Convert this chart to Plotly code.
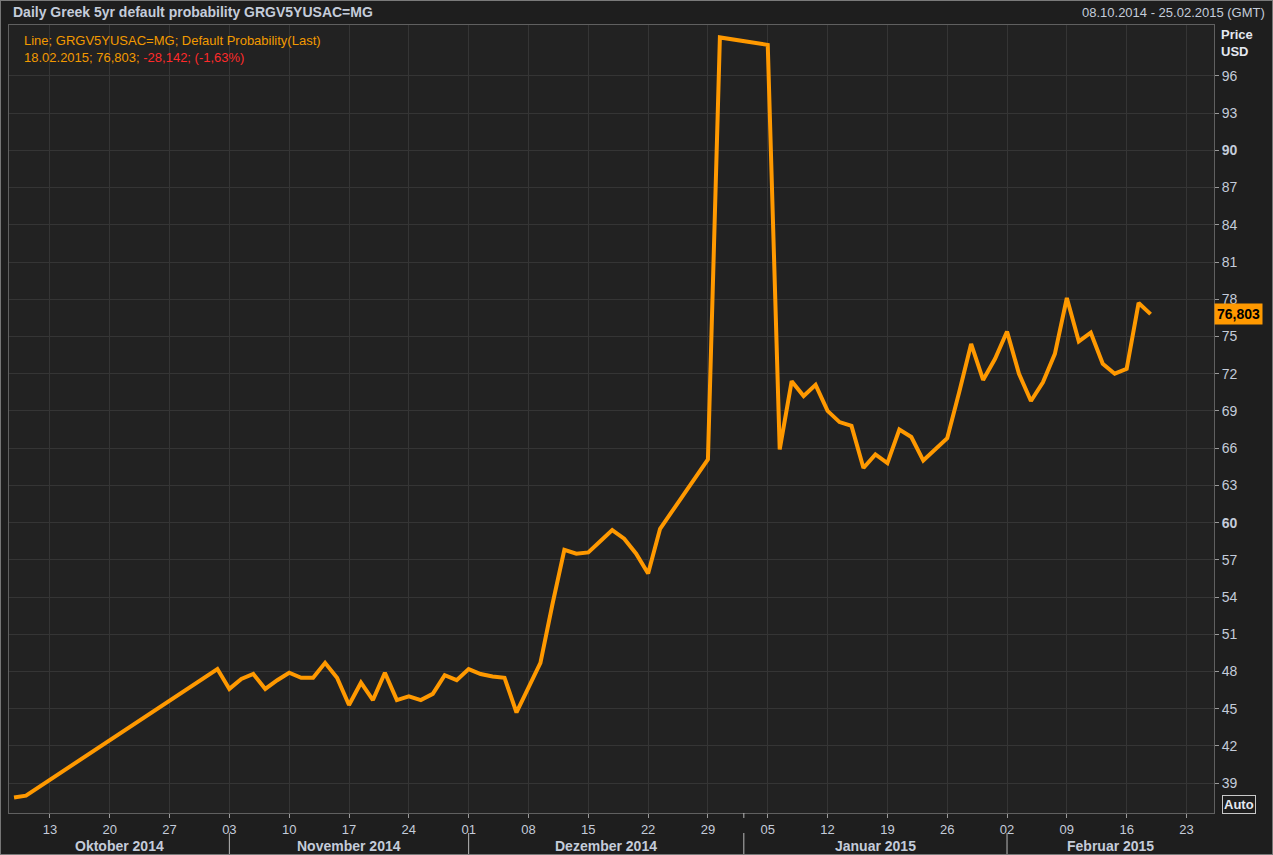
import numpy as np
import plotly.graph_objects as go

# daily default probability, business days only
dates = [
    "2014-10-08", "2014-10-09", "2014-10-31",
    "2014-11-03", "2014-11-04", "2014-11-05", "2014-11-06", "2014-11-07",
    "2014-11-10", "2014-11-11", "2014-11-12", "2014-11-13", "2014-11-14",
    "2014-11-17", "2014-11-18", "2014-11-19", "2014-11-20", "2014-11-21",
    "2014-11-24", "2014-11-25", "2014-11-26", "2014-11-27", "2014-11-28",
    "2014-12-01", "2014-12-02", "2014-12-03", "2014-12-04", "2014-12-05",
    "2014-12-08", "2014-12-09", "2014-12-10", "2014-12-11", "2014-12-12",
    "2014-12-15", "2014-12-16", "2014-12-17", "2014-12-18", "2014-12-19",
    "2014-12-22", "2014-12-23", "2014-12-24", "2014-12-25", "2014-12-26",
    "2014-12-29", "2014-12-30", "2014-12-31", "2015-01-01", "2015-01-02",
    "2015-01-05", "2015-01-06", "2015-01-07", "2015-01-08", "2015-01-09",
    "2015-01-12", "2015-01-13", "2015-01-14", "2015-01-15", "2015-01-16",
    "2015-01-19", "2015-01-20", "2015-01-21", "2015-01-22", "2015-01-23",
    "2015-01-26", "2015-01-27", "2015-01-28", "2015-01-29", "2015-01-30",
    "2015-02-02", "2015-02-03", "2015-02-04", "2015-02-05", "2015-02-06",
    "2015-02-09", "2015-02-10", "2015-02-11", "2015-02-12", "2015-02-13",
    "2015-02-16", "2015-02-17", "2015-02-18",
]
values = [
    37.85, 38.0, 48.2,
    46.6, 47.4, 47.8, 46.6, 47.3,
    47.9, 47.5, 47.5, 48.7, 47.5,
    45.3, 47.1, 45.7, 47.9, 45.7,
    46.0, 45.7, 46.2, 47.7, 47.3,
    48.2, 47.8, 47.6, 47.5, 44.7,
    46.7, 48.7, 53.4, 57.8, 57.5,
    57.6, 58.5, 59.4, 58.7, 57.5,
    55.9, 59.5, 60.9, 62.3, 63.7,
    65.1, 99.1, 98.95, 98.8, 98.65,
    98.5, 65.9, 71.4, 70.2, 71.1,
    69.0, 68.1, 67.8, 64.4, 65.5,
    64.8, 67.5, 66.9, 65.0, 65.9,
    66.8, 70.5, 74.4, 71.5, 73.2,
    75.4, 72.0, 69.8, 71.3, 73.6,
    78.1, 74.6, 75.3, 72.8, 72.0,
    72.4, 77.7, 76.803,
]

week_ticks = [
    "2014-10-13", "2014-10-20", "2014-10-27", "2014-11-03", "2014-11-10",
    "2014-11-17", "2014-11-24", "2014-12-01", "2014-12-08", "2014-12-15",
    "2014-12-22", "2014-12-29", "2015-01-05", "2015-01-12", "2015-01-19",
    "2015-01-26", "2015-02-02", "2015-02-09", "2015-02-16", "2015-02-23",
]
month_names = ["Oktober 2014", "November 2014", "Dezember 2014", "Januar 2015", "Februar 2015"]
month_starts = ["2014-11-03", "2014-12-01", "2015-01-01", "2015-02-02"]
y_ticks = list(range(39, 97, 3))

START = "2014-10-08"


def bidx(d):
    # position on a trading-day axis
    return int(np.busday_count(START, d))


xi = [bidx(d) for d in dates]
tick_x = [bidx(d) for d in week_ticks]
tick_txt = [d[-2:] for d in week_ticks]
bounds = [bidx(d) for d in month_starts]

X_MIN, X_MAX = -0.42, 100.3
edges = [X_MIN] + bounds + [X_MAX]
month_mid = [(edges[i] + edges[i + 1]) / 2 for i in range(len(month_names))]

LABEL = '#c4ccda'
FONT = 'Liberation Sans'

fig = go.Figure()
fig.add_trace(go.Scatter(
    x=xi, y=values, mode='lines',
    line=dict(color='#ff9900', width=4),
    hovertemplate='%{y:.3f}<extra></extra>'
))

shapes = []
for b in bounds:
    shapes.append(dict(type='line', xref='x', yref='paper', x0=b, x1=b,
                       y0=-0.0254, y1=-0.0533, line=dict(color='#b8b8b8', width=1)))
# tick for 1 January (not a Monday)
shapes.append(dict(type='line', xref='x', yref='paper', x0=bounds[2], x1=bounds[2],
                   y0=0, y1=-0.0063, line=dict(color='#b8b8b8', width=1)))
# outer frame
shapes.append(dict(type='rect', xref='paper', yref='paper', x0=-0.0075, x1=1.049,
                   y0=-0.0533, y1=1.0317, line=dict(color='#7a7a7a', width=2)))

annotations = []
for name, m in zip(month_names, month_mid):
    annotations.append(dict(x=m, y=-0.0415, xref='x', yref='paper', text='<b>%s</b>' % name,
                            showarrow=False, yanchor='middle',
                            font=dict(size=14, color=LABEL, family=FONT)))
annotations += [
    dict(x=0.0017, y=1.016, xref='paper', yref='paper', xanchor='left', yanchor='middle',
         text='<b>Daily Greek 5yr default probability GRGV5YUSAC=MG</b>', showarrow=False,
         font=dict(size=14, color=LABEL, family=FONT)),
    dict(x=1.044, y=1.016, xref='paper', yref='paper', xanchor='right', yanchor='middle',
         text='08.10.2014 - 25.02.2015 (GMT)', showarrow=False,
         font=dict(size=13, color=LABEL, family=FONT)),
    dict(x=0.0108, y=0.992, xref='paper', yref='paper', xanchor='left', yanchor='top',
         align='left', showarrow=False,
         text='Line; GRGV5YUSAC=MG; Default Probability(Last)<br>'
              '18.02.2015; 76,803; <span style="color:#ff2a2a">-28,142; (-1,63%)</span>',
         font=dict(size=13, color='#f29a00', family=FONT)),
    dict(x=1.004, y=1.0, xref='paper', yref='paper', xanchor='left', yanchor='top',
         align='left', showarrow=False, text='<b>Price</b><br><b>USD</b>',
         font=dict(size=13, color='#e4e8f0', family=FONT)),
    dict(x=1.0, y=76.803, xref='paper', yref='y', xanchor='left', yanchor='middle',
         showarrow=False, text='<b>76,803</b>', bgcolor='#ff9900', borderpad=2,
         font=dict(size=14, color='#000000', family=FONT)),
    dict(x=1.0066, y=0.0102, xref='paper', yref='paper', xanchor='left', yanchor='middle',
         showarrow=False, text='<b>Auto</b>', bgcolor='#1e1e1e', bordercolor='#c8c8c8',
         borderwidth=1, borderpad=1, font=dict(size=13, color='#e4e8f0', family=FONT)),
]

fig.update_layout(
    width=1273, height=855, autosize=False,
    margin=dict(l=9, r=59, t=25, b=42),
    paper_bgcolor='#1e1e1e',
    plot_bgcolor='#222222',
    showlegend=False,
    shapes=shapes,
    annotations=annotations,
    xaxis=dict(
        range=[X_MIN, X_MAX],
        tickvals=tick_x, ticktext=tick_txt,
        ticks='outside', ticklen=4, tickcolor='#9a9a9a',
        showgrid=True, gridcolor='#353535', gridwidth=1,
        zeroline=False, showline=True, mirror=True, linecolor='#606060',
        tickfont=dict(size=13, color=LABEL, family=FONT)
    ),
    yaxis=dict(
        side='right', range=[36.6, 100.1],
        tickvals=y_ticks,
        ticktext=['<b>%d</b>' % v if v in (60, 90) else str(v) for v in y_ticks],
        ticks='outside', ticklen=4, tickcolor='#9a9a9a',
        showgrid=True, gridcolor='#353535', gridwidth=1,
        zeroline=False, showline=True, mirror=True, linecolor='#606060',
        tickfont=dict(size=14, color=LABEL, family=FONT)
    ),
)

# the page's default body margin would shift the chart by 8px
fig.write_html("out.html",
               config={'displayModeBar': False},
               post_script="document.body.style.margin='0';"
                           "document.body.style.background='#1e1e1e';")
